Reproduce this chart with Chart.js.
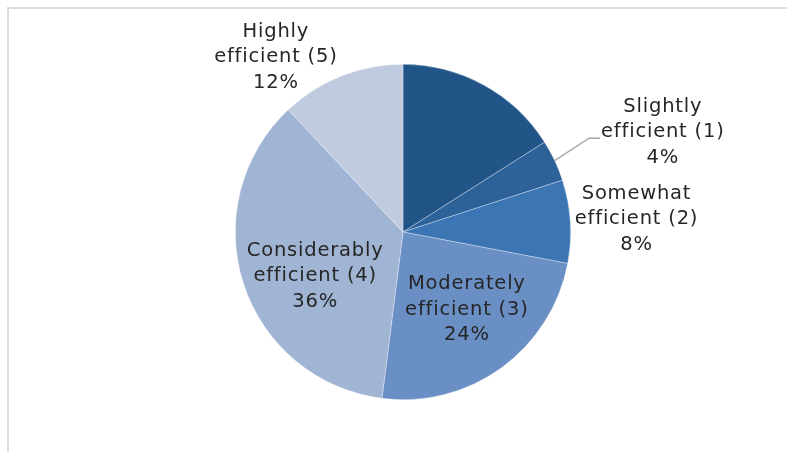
<!DOCTYPE html>
<html>
<head>
<meta charset="utf-8">
<script src="https://cdn.jsdelivr.net/npm/chart.js@4"></script>
<style>
  html, body { margin: 0; padding: 0; background: #fff; }
  #wrap { position: relative; width: 787px; height: 452px; }
</style>
</head>
<body>
<div id="wrap"><canvas id="js-chartjs-pie"></canvas></div>
<script>
// Data
const categories = [
  "Not efficient (0)",
  "Slightly efficient (1)",
  "Somewhat efficient (2)",
  "Moderately efficient (3)",
  "Considerably efficient (4)",
  "Highly efficient (5)"
];
const shares = [16, 4, 8, 24, 36, 12];
const colors = ["#215487", "#2d6299", "#3c75b4", "#6a8fc4", "#a0b4d3", "#c0cbe0"];

// label placement: angle (deg, clockwise from top), distance as fraction of radius, lines
const labelSpots = [
  null,
  { angle: 69, dist: 1.66, lines: ["Slightly", "efficient (1)"], leader: true },
  { angle: 86.8, dist: 1.395, lines: ["Somewhat", "efficient (2)"] },
  { angle: 140.6, dist: 0.60, lines: ["Moderately", "efficient (3)"] },
  { angle: 243.4, dist: 0.586, lines: ["Considerably", "efficient (4)"] },
  { angle: 324, dist: 1.29, lines: ["Highly", "efficient (5)"] }
];

const frame = {
  id: "frame",
  beforeDraw(chart) {
    const ctx = chart.ctx;
    ctx.save();
    ctx.strokeStyle = "#dcdcdc";
    ctx.lineWidth = 2;
    ctx.beginPath();
    ctx.moveTo(8, chart.height);
    ctx.lineTo(8, 8);
    ctx.lineTo(chart.width, 8);
    ctx.stroke();
    ctx.restore();
  }
};

const sliceLabels = {
  id: "sliceLabels",
  afterDatasetsDraw(chart) {
    const ctx = chart.ctx;
    const meta = chart.getDatasetMeta(0);
    const data = chart.data.datasets[0].data;
    const total = data.reduce((a, b) => a + b, 0);
    ctx.save();
    ctx.font = "19.5px 'DejaVu Sans'";
    ctx.letterSpacing = "0.8px";
    ctx.fillStyle = "#262626";
    ctx.textAlign = "center";
    ctx.textBaseline = "middle";
    const lineH = 25.5;
    meta.data.forEach((arc, i) => {
      const spot = labelSpots[i];
      if (!spot) return;
      const r = arc.outerRadius;
      const a = spot.angle * Math.PI / 180;
      const cx = arc.x + Math.sin(a) * r * spot.dist;
      const cy = arc.y - Math.cos(a) * r * spot.dist;
      const lines = spot.lines.concat([Math.round(data[i] / total * 100) + "%"]);
      const top = cy - lineH * (lines.length - 1) / 2;
      lines.forEach((t, k) => ctx.fillText(t, cx, top + k * lineH));

      if (spot.leader) {
        const mid = (arc.startAngle + arc.endAngle) / 2;
        const sx = arc.x + Math.cos(mid) * r;
        const sy = arc.y + Math.sin(mid) * r;
        const ex = cx - ctx.measureText(lines[1]).width / 2 - 1;
        const ey = top + lineH + 6;
        ctx.strokeStyle = "#a6a6a6";
        ctx.lineWidth = 1.3;
        ctx.beginPath();
        ctx.moveTo(sx, sy);
        ctx.lineTo(ex - 11, ey);
        ctx.lineTo(ex, ey);
        ctx.stroke();
      }
    });
    ctx.restore();
  }
};

new Chart(document.getElementById("js-chartjs-pie"), {
  type: "pie",
  data: {
    labels: categories,
    datasets: [{
      data: shares,
      backgroundColor: colors,
      borderColor: "rgba(255,255,255,0.45)",
      borderWidth: 0.7
    }]
  },
  options: {
    responsive: true,
    maintainAspectRatio: false,
    animation: false,
    layout: { padding: { top: 64, bottom: 52, left: 200, right: 181 } },
    plugins: { legend: { display: false }, tooltip: { enabled: false } }
  },
  plugins: [frame, sliceLabels]
});
</script>
</body>
</html>
